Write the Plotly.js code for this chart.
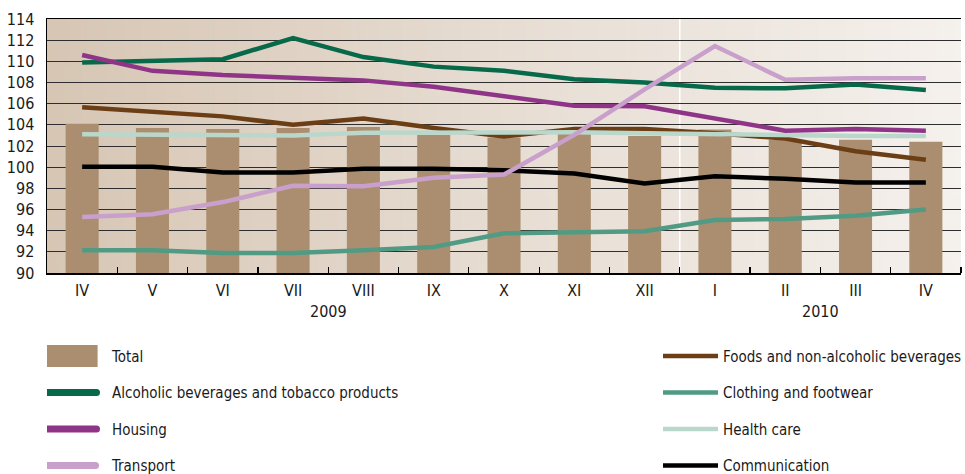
<!DOCTYPE html>
<html>
<head>
<meta charset="utf-8">
<script src="https://cdn.plot.ly/plotly-3.0.1.min.js"></script>
<style>
html,body{margin:0;padding:0;background:#fff;}
#chart{width:965px;height:474px;}
</style>
</head>
<body>
<div id="chart"></div>
<script>
// ---- data ----
const months = ['IV','V','VI','VII','VIII','IX','X','XI','XII','I','II','III','IV'];
const years = ['2009','2010'];
const total = [104.1,103.7,103.6,103.7,103.8,103.05,102.8,103.2,102.95,103.55,102.6,102.6,102.4];
const foods = [105.65,105.25,104.8,104.0,104.6,103.7,102.9,103.6,103.6,103.2,102.7,101.5,100.7];
const alcohol = [109.9,110.05,110.2,112.2,110.4,109.5,109.1,108.3,108.0,107.5,107.45,107.8,107.3];
const clothing = [92.15,92.15,91.9,91.9,92.15,92.45,93.75,93.85,93.95,95.0,95.1,95.4,96.0];
const housing = [110.6,109.1,108.7,108.4,108.2,107.6,106.7,105.8,105.75,104.55,103.45,103.6,103.45];
const health = [103.1,103.05,103.05,103.0,103.25,103.3,103.3,103.3,103.2,103.1,102.95,102.95,102.95];
const transport = [95.3,95.55,96.7,98.25,98.2,99.0,99.3,103.05,107.35,111.45,108.25,108.4,108.4];
const communication = [100.05,100.05,99.5,99.5,99.85,99.85,99.7,99.4,98.45,99.15,98.9,98.55,98.55];
const names = {
  total:'Total', foods:'Foods and non-alcoholic beverages', alcohol:'Alcoholic beverages and tobacco products',
  clothing:'Clothing and footwear', housing:'Housing', health:'Health care', transport:'Transport',
  communication:'Communication'
};

// ---- presentation ----
const FONT = "'Liberation Sans Narrow', 'DejaVu Sans Condensed', 'Liberation Sans', sans-serif";
const TXT = '#1a1a1a';
const xs = months.map((m, i) => i);

function line(y, name, color, legend) {
  return {type:'scatter', mode:'lines', x:xs, y:y, name:name, legend:legend, legendgroup:name,
          line:{color:color, width:4.5}, hoverinfo:'name+y'};
}

const traces = [
  {type:'bar', x:xs, y:total, name:names.total, legend:'legend', legendgroup:names.total,
   marker:{color:'#ab8e6f'}, width:0.47, base:0},
  line(foods, names.foods, '#6b3e16', 'legend2'),
  line(clothing, names.clothing, '#519b84', 'legend2'),
  line(health, names.health, '#bad7cb', 'legend2'),
  line(communication, names.communication, '#000000', 'legend2'),
  line(alcohol, names.alcohol, '#07694a', 'legend'),
  line(housing, names.housing, '#8f3588', 'legend'),
  line(transport, names.transport, '#c9a0cb', 'legend')
];

// gradient background image
const cv = document.createElement('canvas');
cv.width = 400; cv.height = 8;
const cx = cv.getContext('2d');
const g = cx.createLinearGradient(0, 0, 400, 0);
g.addColorStop(0, '#d7c6b4');
g.addColorStop(0.5, '#e7ddd3');
g.addColorStop(1, '#f5f1ed');
cx.fillStyle = g; cx.fillRect(0, 0, 400, 8);
const bgImg = cv.toDataURL('image/png');

const legendCommon = {
  orientation:'v', xanchor:'left', yanchor:'top', traceorder:'grouped', tracegroupgap:14,
  font:{family:FONT, size:15, color:TXT}, itemwidth:55, bgcolor:'rgba(0,0,0,0)',
  itemclick:false, itemdoubleclick:false
};

const layout = {
  width:965, height:474,
  margin:{l:47, r:4, t:19, b:201, autoexpand:false},
  paper_bgcolor:'#ffffff', plot_bgcolor:'rgba(0,0,0,0)',
  font:{family:FONT, size:16, color:TXT},
  barmode:'overlay',
  showlegend:true,
  xaxis:{
    range:[-0.5, months.length - 0.5], tickmode:'array', tickvals:xs, ticktext:months,
    ticks:'', showgrid:false, zeroline:false, showline:true, linecolor:'#000', linewidth:1.5,
    mirror:true, tickfont:{family:FONT, size:16, color:TXT}, ticklabelstandoff:2,
    minor:{tickmode:'array', tickvals:xs.map(v => v + 0.5), ticks:'inside', ticklen:6,
           tickwidth:1.2, tickcolor:'#000', showgrid:false}
  },
  yaxis:{
    range:[90,114], tickmode:'linear', tick0:90, dtick:2, ticks:'', showgrid:true,
    gridcolor:'#2e2e2e', gridwidth:1, zeroline:false, showline:true, linecolor:'#000', linewidth:1.5,
    tickfont:{family:FONT, size:16, color:TXT}, ticklabelstandoff:8
  },
  legend:Object.assign({x:0.0, y:-0.263}, legendCommon),
  legend2:Object.assign({x:0.6685, y:-0.263}, legendCommon),
  images:[{source:bgImg, xref:'paper', yref:'paper', x:0, y:1, sizex:1, sizey:1,
           sizing:'stretch', layer:'below'}],
  shapes:[{type:'line', xref:'x', yref:'paper', x0:months.length - 4.5, x1:months.length - 4.5,
           y0:0, y1:1, layer:'below', line:{color:'#ffffff', width:1.5}}],
  annotations:[
    {text:years[0], xref:'x', yref:'paper', x:3.5, y:-0.15, showarrow:false,
     font:{family:FONT, size:16, color:TXT}, yanchor:'middle'},
    {text:years[1], xref:'x', yref:'paper', x:10.5, y:-0.15, showarrow:false,
     font:{family:FONT, size:16, color:TXT}, yanchor:'middle'}
  ]
};

function fixLegend(gd) {
  gd.querySelectorAll('g.legend g.traces, g.legend2 g.traces').forEach(tr => {
    const txt = tr.querySelector('text.legendtext');
    if (!txt) return;
    const tl = txt.getBoundingClientRect().left;
    const ln = tr.querySelector('.legendlines path');
    if (ln) {
      const bb = ln.getBBox();
      const off = ln.getBoundingClientRect().left - bb.x;
      const x0 = tl - 65 - off;
      ln.setAttribute('d', 'M' + x0 + ',0h49.5');
      ln.style.strokeWidth = '7px';
      ln.style.strokeLinecap = 'round';
      return;
    }
    const bar = tr.querySelector('.legendpoints path');
    if (bar) {
      const bb = bar.getBBox();
      const off = bar.getBoundingClientRect().left - bb.x;
      const x0 = tl - 65 - off;
      bar.setAttribute('d', 'M' + x0 + ',-11h51.6v22h-51.6Z');
      bar.style.strokeWidth = '0px';
    }
  });
}

Plotly.newPlot('chart', traces, layout, {displayModeBar:false, staticPlot:true}).then(fixLegend);
</script>
</body>
</html>
